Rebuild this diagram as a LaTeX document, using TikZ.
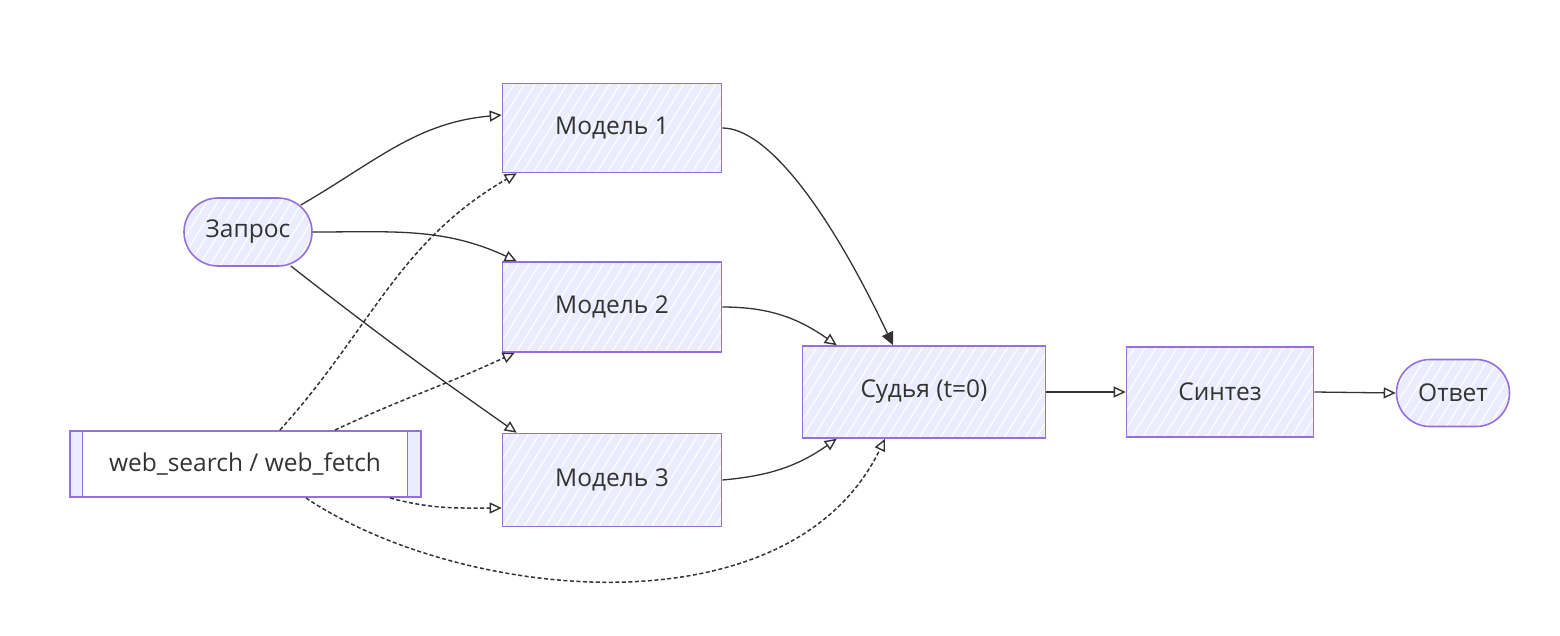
\documentclass[tikz,border=0pt]{standalone}
\usepackage{fontspec}
\setmainfont{Open Sans}
\usetikzlibrary{arrows.meta,calc,patterns.meta,shapes.misc}
\definecolor{lav}{HTML}{ECECFF}
\definecolor{purp}{HTML}{9370DB}
\definecolor{ink}{HTML}{333333}
\tikzset{
  hatch/.style={preaction={fill=lav},
    preaction={pattern={Lines[angle=58,distance=9pt,line width=1.1pt]},pattern color=white}},
  lbl/.style={text=ink,font=\fontsize{24.5}{28}\selectfont,inner sep=0pt},
  box/.style={rectangle,draw=purp,line width=1.6pt,hatch,lbl},
  pill/.style={rounded rectangle,draw=purp,line width=1.6pt,hatch,lbl},
  sub/.style={rectangle,draw=purp,line width=2pt,fill=white,lbl,
    path picture={
      \fill[lav] (path picture bounding box.north west) rectangle ([xshift=13pt]path picture bounding box.south west);
      \fill[lav] (path picture bounding box.north east) rectangle ([xshift=-13pt]path picture bounding box.south east);
      \draw[purp,line width=1.8pt] ([xshift=13pt]path picture bounding box.north west) -- ([xshift=13pt]path picture bounding box.south west);
      \draw[purp,line width=1.8pt] ([xshift=-13pt]path picture bounding box.north east) -- ([xshift=-13pt]path picture bounding box.south east);
    }},
  edge/.style={draw=ink,line width=1.3pt,-{Triangle[open,length=12pt,width=11pt,line width=1.4pt]}},
  fedge/.style={draw=ink,line width=1.3pt,-{Triangle[length=13pt,width=12pt]}},
  dedge/.style={edge,line width=1.5pt,dash pattern=on 4pt off 2.5pt},
}
\begin{document}
\begin{tikzpicture}[x=1pt,y=1pt]
\useasboundingbox (0,0) rectangle (1560,-635);
% nodes
\node[pill,minimum width=128pt,minimum height=68pt] (q) at (248,-232) {Запрос};
\node[box,minimum width=219pt,minimum height=89pt] (m1) at (612,-128) {Модель 1};
\node[box,minimum width=219pt,minimum height=90pt] (m2) at (612,-307) {Модель 2};
\node[box,minimum width=219pt,minimum height=93pt] (m3) at (612,-480) {Модель 3};
\node[box,minimum width=243pt,minimum height=92pt] (j) at (924,-392) {Судья (t=0)};
\node[box,minimum width=187pt,minimum height=90pt] (s) at (1220,-392) {Синтез};
\node[pill,minimum width=113pt,minimum height=67pt] (a) at (1453,-393) {Ответ};
\node[sub,minimum width=351pt,minimum height=66pt] (w) at (245,-464) {web\_search / web\_fetch};
% edges from Запрос
\draw[edge] ($(q.east)+(-12,27)$) to[out=30,in=185] ($(m1.west)+(0,13)$);
\draw[edge] (q.east) to[out=0,in=155] ($(m2.north west)+(15,0)$);
\draw[edge] ($(q.east)+(-22,-34)$) to[out=-38,in=145] ($(m3.north west)+(15,0)$);
% dashed edges from web
\draw[dedge] ($(w.north)+(35,0)$) to[out=48,in=-150] ($(m1.south west)+(15,0)$);
\draw[dedge] ($(w.north)+(90,0)$) to[out=25,in=-155] ($(m2.south west)+(13,0)$);
\draw[dedge] ($(w.south)+(145,0)$) to[out=-15,in=180] ($(m3.west)+(0,-28)$);
\draw[dedge] ($(w.south)+(61,0)$) .. controls ($(w.south)+(215,-103)$) and ($(j.south)+(-134,-197)$) .. ($(j.south)+(-39,0)$);
% models to judge
\draw[fedge] (m1.east) .. controls ($(m1.east)+(45,0)$) and ($(j.north)+(-95,135)$) .. ($(j.north)+(-31,0)$);
\draw[edge] (m2.east) to[out=0,in=145] ($(j.north west)+(35,0)$);
\draw[edge] (m3.east) to[out=5,in=-145] ($(j.south west)+(35,0)$);
% chain
\draw[edge] (j.east) -- (s.west);
\draw[edge] (s.east) -- (a.west);
\end{tikzpicture}
\end{document}
